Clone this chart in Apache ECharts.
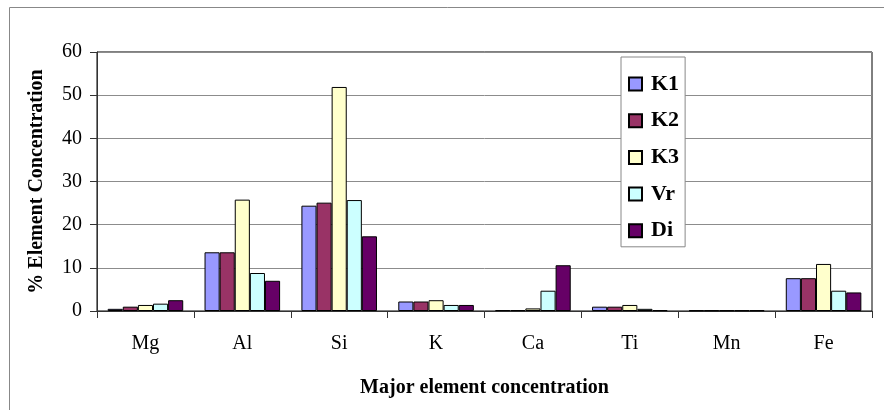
<!DOCTYPE html>
<html>
<head>
<meta charset="utf-8">
<script src="https://cdn.jsdelivr.net/npm/echarts@6/dist/echarts.min.js"></script>
<style>html,body{margin:0;padding:0;background:#fff;}#c{width:884px;height:410px;}</style>
</head>
<body>
<div id="c"></div>
<script>
var categories = ['Mg', 'Al', 'Si', 'K', 'Ca', 'Ti', 'Mn', 'Fe'];
var seriesNames = ['K1', 'K2', 'K3', 'Vr', 'Di'];
var K1 = [0.5, 13.6, 24.4, 2.2, 0.2, 1.0, 0.15, 7.6];
var K2 = [1.0, 13.6, 25.1, 2.2, 0.2, 1.0, 0.15, 7.6];
var K3 = [1.4, 25.8, 51.9, 2.5, 0.6, 1.4, 0.15, 10.9];
var Vr = [1.7, 8.8, 25.7, 1.4, 4.7, 0.5, 0.15, 4.7];
var Di = [2.5, 7.0, 17.3, 1.4, 10.6, 0.2, 0.15, 4.3];
var yTicks = [0, 10, 20, 30, 40, 50, 60];
var colors = ['#9999FF', '#993366', '#FFFFCC', '#CCFFFF', '#660066'];

var values = [K1, K2, K3, Vr, Di];
var serif = '"Liberation Serif", "DejaVu Serif", serif';
var chart = echarts.init(document.getElementById('c'), null, {renderer: 'canvas'});
chart.setOption({
  animation: false,
  backgroundColor: '#fff',
  graphic: [{
    type: 'rect', silent: true, z: -10,
    shape: {x: 9.5, y: 7.5, width: 900, height: 420},
    style: {fill: 'none', stroke: '#888', lineWidth: 1}
  }],
  grid: {left: 97, right: 12, top: 52, bottom: 99, show: true, borderColor: '#000', borderWidth: 1, backgroundColor: 'transparent'},
  legend: {
    orient: 'vertical', left: 621, top: 57,
    data: seriesNames,
    backgroundColor: '#fff', borderColor: '#888', borderWidth: 1,
    padding: [16, 6, 5, 7],
    itemWidth: 13, itemHeight: 13, itemGap: 14.7, icon: 'rect',
    textStyle: {fontFamily: serif, fontWeight: 'bold', fontSize: 22, color: '#000', lineHeight: 20, padding: [0, 0, 0, 4]}
  },
  xAxis: {
    type: 'category', data: categories,
    name: 'Major element concentration', nameLocation: 'middle', nameGap: 67,
    nameTextStyle: {fontFamily: serif, fontWeight: 'bold', fontSize: 20, color: '#000'},
    axisLine: {lineStyle: {color: '#333', width: 1}},
    axisTick: {show: true, length: 7, lineStyle: {color: '#333'}},
    axisLabel: {fontFamily: serif, fontSize: 20, color: '#000', margin: 23}
  },
  yAxis: {
    type: 'value', min: yTicks[0], max: yTicks[yTicks.length - 1], interval: 10,
    name: '% Element Concentration', nameLocation: 'middle', nameGap: 50, nameRotate: 90,
    nameTextStyle: {fontFamily: serif, fontWeight: 'bold', fontSize: 20, color: '#000'},
    axisLine: {show: true, lineStyle: {color: '#333', width: 1}},
    axisTick: {show: true, length: 7, lineStyle: {color: '#333'}},
    axisLabel: {fontFamily: serif, fontSize: 20, color: '#000', margin: 15},
    splitLine: {show: true, lineStyle: {color: '#8c8c8c', width: 1}}
  },
  series: seriesNames.map(function (n, i) {
    return {
      name: n, type: 'bar', data: values[i],
      barGap: '0%', barCategoryGap: '22%',
      itemStyle: {color: colors[i], borderColor: '#000', borderWidth: 1}
    };
  })
});
</script>
</body>
</html>
